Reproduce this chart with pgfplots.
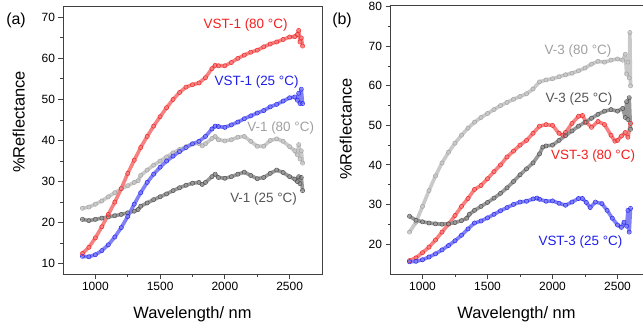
\documentclass[border=0pt]{standalone}
\usepackage{fontspec}
\setmainfont{Liberation Sans}
\usepackage{pgfplots}
\pgfplotsset{compat=1.18}
\definecolor{cred}{RGB}{240,45,45}
\definecolor{cblue}{RGB}{45,45,240}
\definecolor{clgray}{RGB}{165,165,165}
\definecolor{cdgray}{RGB}{85,85,85}
\definecolor{tred}{RGB}{245,30,30}
\definecolor{tblue}{RGB}{30,30,235}
\definecolor{tlgray}{RGB}{160,160,160}
\definecolor{tdgray}{RGB}{85,85,85}
\tikzset{ann/.style={font=\fontsize{13.5}{16}\selectfont, inner sep=0pt}}
\pgfplotsset{
  refl/.style={
    scale only axis, height=268bp,
    xmin=750,
    axis line style={black!75, line width=1bp},
    tick style={black!75, line width=0.9bp},
    tick align=outside,
    xtick={1000,1500,2000,2500},
    minor x tick num=1, minor y tick num=1,
    xtick pos=bottom, ytick pos=left,
    major tick length=4.5bp, minor tick length=2.5bp,
    ticklabel style={font=\fontsize{12}{14}\selectfont},
    /pgf/number format/assume math mode=true,
    /pgf/number format/set thousands separator={},
    label style={font=\fontsize{16.5}{19}\selectfont},
    xlabel={Wavelength/ nm},
    ylabel={\%Reflectance},
    xlabel style={at={(axis description cs:0.5,0)}, anchor=base, yshift=-44bp},
    clip=false,
  },
  band/.style={color=#1!60!white, line width=3.6bp, line join=round, line cap=round, mark=none},
  circ/.style={color=#1, only marks, mark=o, mark size=2.1bp, mark options={line width=0.55bp}},
}
\begin{document}
\begin{tikzpicture}
\path[use as bounding box] (0,0) rectangle (643bp,329bp);
% ---------------- panel (a)
\begin{axis}[refl, at={(63bp,55bp)}, anchor=south west, width=259bp, xmax=2750,
  ymin=7.5, ymax=72.75, ytick={10,20,30,40,50,60,70},
  ylabel style={at={(axis description cs:-0.148,0.567)}, anchor=base}]
\pgfplotstableread{
x y
900 12.5
950 14.0
1000 16.3
1050 19.0
1100 22.0
1150 25.0
1200 28.3
1250 32.0
1300 35.2
1350 38.3
1400 41.0
1450 43.5
1500 45.8
1550 48.0
1600 50.0
1650 51.7
1700 53.0
1750 53.6
1800 54.0
1850 55.3
1900 57.5
1925 58.3
1950 58.2
2000 58.2
2050 59.0
2100 60.0
2150 60.8
2200 61.5
2250 62.0
2300 62.8
2350 63.5
2400 64.0
2450 64.6
2500 65.2
2540 65.3
2560 65.8
2570 66.8
2580 64.0
2590 65.0
2600 63.0
}\vstaa
\pgfplotstableread{
x y
900 11.8
950 11.7
1000 12.2
1050 13.2
1100 14.6
1150 16.5
1200 18.8
1250 21.5
1300 24.5
1350 27.3
1400 29.8
1450 31.8
1500 33.5
1550 35.0
1600 36.2
1650 37.3
1700 38.3
1750 39.2
1800 39.8
1850 41.0
1900 42.8
1925 43.5
1950 43.4
2000 43.2
2050 43.8
2100 44.5
2150 45.3
2200 46.0
2250 46.7
2300 47.3
2350 48.2
2400 48.8
2450 49.6
2500 50.4
2540 50.6
2560 49.8
2570 51.5
2580 49.0
2590 52.5
2600 49.0
}\vstab
\pgfplotstableread{
x y
900 23.5
950 23.8
1000 24.5
1050 25.3
1100 26.3
1150 27.3
1200 28.2
1250 29.0
1300 29.8
1330 30.2
1350 31.5
1400 32.8
1450 34.0
1500 35.0
1550 36.0
1600 37.0
1650 37.8
1700 38.5
1750 39.2
1800 39.3
1825 38.7
1850 39.2
1900 40.5
1925 41.0
1950 40.2
2000 39.9
2050 40.2
2100 40.8
2150 41.0
2200 39.8
2250 38.6
2300 38.6
2350 40.0
2400 40.4
2450 39.8
2500 38.5
2540 37.5
2560 36.5
2570 39.0
2580 35.5
2590 37.5
2600 34.5
}\vaa
\pgfplotstableread{
x y
900 20.8
950 20.5
1000 20.8
1050 21.1
1100 21.4
1150 21.7
1200 22.0
1250 22.4
1300 22.8
1330 23.2
1350 24.0
1400 24.8
1450 25.6
1500 26.3
1550 27.0
1600 27.8
1650 28.5
1700 29.1
1750 29.6
1800 29.8
1825 29.3
1850 29.8
1900 31.2
1925 31.8
1950 31.0
2000 30.8
2050 31.2
2100 31.8
2150 32.3
2200 31.5
2250 30.7
2300 31.0
2350 32.0
2400 32.8
2450 32.2
2500 31.2
2540 30.6
2560 30.0
2570 31.2
2580 29.5
2590 31.0
2600 27.8
}\vab
\addplot[band=clgray] table {\vaa};
\addplot[circ=clgray] table {\vaa};
\addplot[band=cdgray] table {\vab};
\addplot[circ=cdgray] table {\vab};
\addplot[band=cblue] table {\vstab};
\addplot[circ=cblue] table {\vstab};
\addplot[band=cred] table {\vstaa};
\addplot[circ=cred] table {\vstaa};
\node[ann, text=tred] at (axis cs:2160,68.1) {VST-1 (80 °C)};
\node[ann, text=tblue] at (axis cs:2245,54.3) {VST-1 (25 °C)};
\node[ann, text=tlgray] at (axis cs:2431,43.1) {V-1 (80 °C)};
\node[ann, text=tdgray] at (axis cs:2299,25.8) {V-1 (25 °C)};
\end{axis}
\node[font=\fontsize{16}{19}\selectfont, inner sep=0pt] at (16bp,308.5bp) {(a)};
% ---------------- panel (b)
\begin{axis}[refl, at={(390bp,55bp)}, anchor=south west, width=253bp, xmax=2696,
  axis x line*=box, axis y line*=left,
  ymin=12.4, ymax=80.2, ytick={20,30,40,50,60,70,80},
  ylabel style={at={(axis description cs:-0.152,0.541)}, anchor=base}]
\pgfplotstableread{
x y
900 23.0
950 25.5
1000 29.5
1050 33.5
1100 37.2
1150 40.5
1200 43.2
1250 45.5
1300 47.5
1350 49.3
1400 50.8
1450 52.0
1500 53.0
1550 54.0
1600 55.0
1650 55.8
1700 56.6
1750 57.3
1800 58.0
1850 59.2
1900 61.0
1950 61.5
2000 61.8
2050 62.3
2100 62.8
2150 63.2
2200 63.8
2250 64.5
2300 65.5
2350 66.2
2400 66.0
2450 66.5
2500 66.8
2540 66.5
2560 68.0
2570 63.0
2580 66.0
2590 62.0
2595 73.5
2600 60.0
}\vca
\pgfplotstableread{
x y
900 27.0
950 26.0
1000 25.6
1050 25.3
1100 25.1
1150 25.0
1200 25.1
1250 25.4
1300 25.9
1340 26.5
1360 27.5
1400 28.5
1450 29.5
1500 30.5
1550 31.6
1600 32.8
1650 34.2
1700 35.8
1750 37.5
1800 39.0
1850 40.5
1900 42.8
1925 44.5
1950 44.8
2000 45.0
2050 46.2
2100 47.4
2150 48.6
2200 49.8
2250 50.8
2300 51.8
2350 52.8
2400 53.6
2450 54.0
2500 53.6
2540 54.3
2560 52.0
2570 56.0
2580 51.5
2590 57.0
2600 49.0
}\vcb
\pgfplotstableread{
x y
900 15.8
950 16.5
1000 17.8
1050 19.2
1100 21.0
1150 23.0
1200 25.0
1250 27.2
1300 29.5
1350 31.5
1400 33.8
1450 34.8
1500 36.5
1550 38.3
1600 40.0
1650 42.0
1700 43.5
1750 45.0
1800 46.2
1850 48.0
1900 49.8
1950 50.2
2000 50.0
2050 48.0
2080 47.5
2100 48.2
2150 50.5
2200 52.3
2230 52.5
2260 50.8
2300 49.5
2350 51.0
2400 50.2
2450 47.5
2480 46.0
2500 46.2
2530 47.3
2560 48.2
2580 47.0
2600 50.5
}\vstca
\pgfplotstableread{
x y
900 15.5
950 15.6
1000 16.0
1050 16.7
1100 17.5
1150 18.5
1200 19.6
1250 20.8
1300 22.2
1350 23.8
1400 25.3
1450 25.8
1500 26.6
1550 27.5
1600 28.4
1650 29.2
1700 30.0
1750 30.6
1800 30.8
1850 31.4
1880 31.6
1900 31.3
1950 30.8
2000 30.9
2050 30.3
2100 29.8
2150 30.6
2200 31.5
2230 31.5
2260 30.5
2290 29.2
2330 30.6
2380 30.2
2420 28.5
2460 26.5
2500 24.8
2530 24.2
2550 25.5
2570 24.5
2580 28.5
2590 23.0
2600 29.0
}\vstcb
\addplot[band=clgray] table {\vca};
\addplot[circ=clgray] table {\vca};
\addplot[band=cred] table {\vstca};
\addplot[circ=cred] table {\vstca};
\addplot[band=cdgray] table {\vcb};
\addplot[circ=cdgray] table {\vcb};
\addplot[band=cblue] table {\vstcb};
\addplot[circ=cblue] table {\vstcb};
\node[ann, text=tlgray] at (axis cs:2196,68.9) {V-3 (80 °C)};
\node[ann, text=tdgray] at (axis cs:2204,56.7) {V-3 (25 °C)};
\node[ann, text=tred] at (axis cs:2312,42.3) {VST-3 (80 °C)};
\node[ann, text=tblue] at (axis cs:2215,20.6) {VST-3 (25 °C)};
\end{axis}
\node[font=\fontsize{16}{19}\selectfont, inner sep=0pt] at (342bp,309bp) {(b)};
\end{tikzpicture}
\end{document}
